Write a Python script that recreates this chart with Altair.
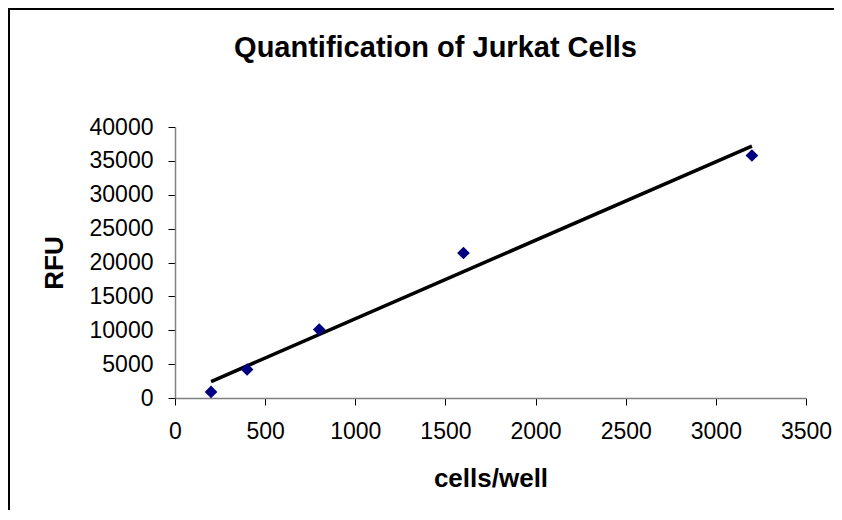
import altair as alt
import pandas as pd

cells = [200, 400, 800, 1600, 3200]
rfu = [900, 4200, 10100, 21400, 35800]

x_ticks = [0, 500, 1000, 1500, 2000, 2500, 3000, 3500]
y_ticks = [0, 5000, 10000, 15000, 20000, 25000, 30000, 35000, 40000]

df = pd.DataFrame({"cells": cells, "rfu": rfu})
FONT = "Liberation Sans"

x_enc = alt.X("cells:Q", title="cells/well",
              scale=alt.Scale(domain=[0, 3500], nice=False, zero=False),
              axis=alt.Axis(values=x_ticks, format="d", grid=False,
                            labelFont=FONT, labelFontSize=23, labelColor="black",
                            labelPadding=15, tickSize=7, tickColor="black",
                            domainColor="#808080", domainWidth=1.5,
                            labelOverlap=False, labelFlush=False,
                            titleFont=FONT, titleFontSize=26, titleFontWeight="bold",
                            titleColor="black", titlePadding=22))
y_enc = alt.Y("rfu:Q", title="RFU",
              scale=alt.Scale(domain=[0, 40000], nice=False),
              axis=alt.Axis(values=y_ticks, format="d", grid=False,
                            labelFont=FONT, labelFontSize=23, labelColor="black",
                            labelPadding=15, tickSize=7, tickColor="black",
                            domainColor="#808080", domainWidth=1.5,
                            labelOverlap=False,
                            titleFont=FONT, titleFontSize=26, titleFontWeight="bold",
                            titleColor="black", titlePadding=22))

points = alt.Chart(df).mark_point(shape="diamond", filled=True, size=160,
                                  color="#000080", opacity=1).encode(x=x_enc, y=y_enc)

trend = alt.Chart(df).transform_regression("cells", "rfu").mark_line(
    color="black", strokeWidth=3.5).encode(x=x_enc, y=y_enc)

one = pd.DataFrame({"a": [0]})
border_top = alt.Chart(one).mark_rule(stroke="black", strokeWidth=2).encode(
    x=alt.value(-167), x2=alt.value(700), y=alt.value(-118))
border_left = alt.Chart(one).mark_rule(stroke="black", strokeWidth=2).encode(
    x=alt.value(-166), y=alt.value(-119), y2=alt.value(500))

chart = alt.layer(border_top, border_left, trend, points).properties(
    width=631, height=271,
    background="white",
    title=alt.TitleParams("Quantification of Jurkat Cells", font=FONT, fontSize=29,
                          fontWeight="bold", color="black", anchor="middle",
                          dx=-55, offset=0, dy=56),
    padding={"left": 167, "top": 119, "right": 28, "bottom": 112},
    autosize=alt.AutoSizeParams(type="none"),
).configure_view(strokeWidth=0, stroke="transparent")

chart.save("out.html", embed_options={"renderer": "svg", "actions": False})
